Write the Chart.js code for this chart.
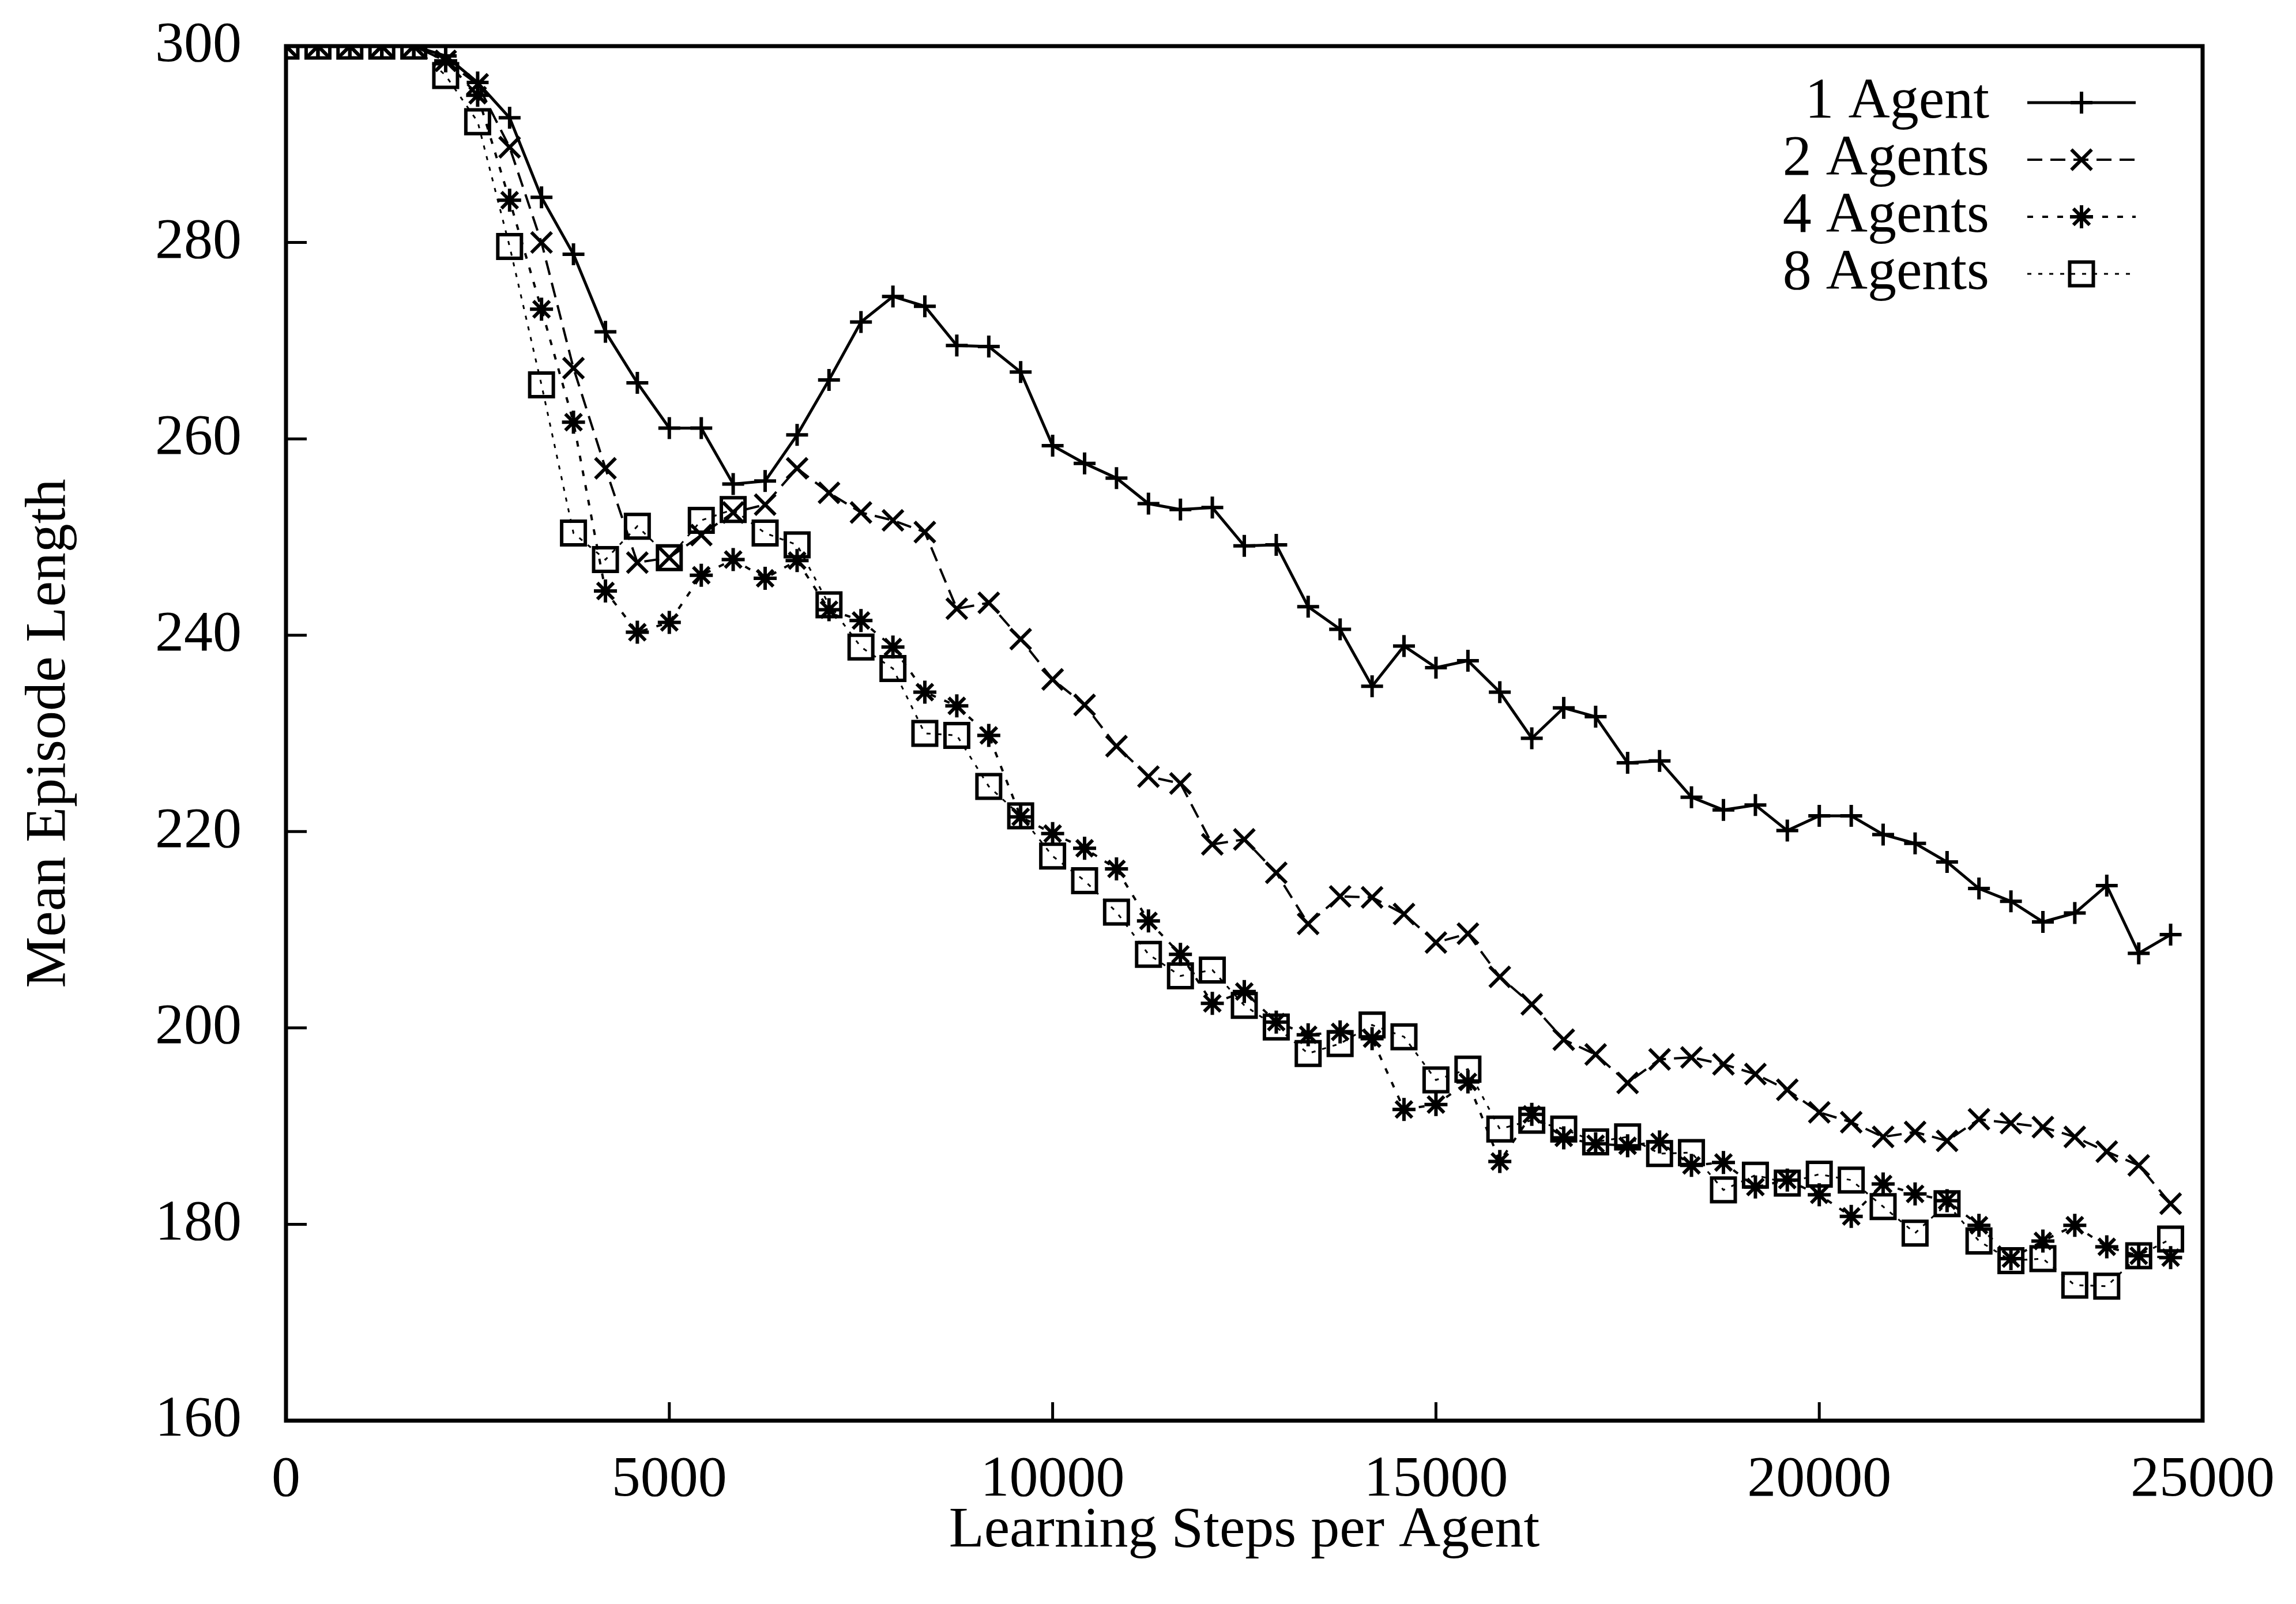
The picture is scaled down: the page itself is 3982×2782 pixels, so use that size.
<!DOCTYPE html>
<html>
<head>
<meta charset="utf-8">
<title>Mean Episode Length</title>
<script src="https://cdn.jsdelivr.net/npm/chart.js"></script>
<style>
  html, body { margin: 0; padding: 0; background: #fff; }
  #wrap { width: 3982px; height: 2782px; position: relative; }
</style>
</head>
<body>
<div id="wrap"><canvas id="myChart"></canvas></div>
<script>
"use strict";

// learning steps per agent (x positions of the samples)
const steps = [0, 417, 833, 1250, 1667, 2083, 2500, 2917, 3333, 3750,
  4167, 4583, 5000, 5417, 5833, 6250, 6667, 7083, 7500, 7917,
  8333, 8750, 9167, 9583, 10000, 10417, 10833, 11250, 11667, 12083,
  12500, 12917, 13333, 13750, 14167, 14583, 15000, 15417, 15833, 16250,
  16667, 17083, 17500, 17917, 18333, 18750, 19167, 19583, 20000, 20417,
  20833, 21250, 21667, 22083, 22500, 22917, 23333, 23750, 24167, 24583];

const agent1 = [300, 300, 300, 300, 300, 299, 296.3, 292.7, 284.6, 278.8,
  270.9, 265.7, 261.1, 261.1, 255.4, 255.7, 260.4, 266, 271.9, 274.5,
  273.5, 269.5, 269.4, 266.8, 259.3, 257.5, 256.0, 253.4, 252.8, 253.0,
  249.1, 249.2, 242.9, 240.6, 234.8, 238.9, 236.7, 237.4, 234.2, 229.5,
  232.6, 231.7, 227.0, 227.2, 223.5, 222.2, 222.7, 220.1, 221.6, 221.6,
  219.7, 218.8, 216.9, 214.2, 212.9, 210.8, 211.7, 214.5, 207.6, 209.5];

const agents2 = [300, 300, 300, 300, 300, 298.5, 296.1, 289.7, 280.0, 267.2,
  257.0, 247.4, 247.9, 250.2, 252.5, 253.3, 257.0, 254.5, 252.5, 251.7,
  250.5, 242.7, 243.3, 239.6, 235.5, 232.9, 228.7, 225.6, 224.9, 218.7,
  219.2, 215.8, 210.6, 213.4, 213.3, 211.6, 208.7, 209.6, 205.2, 202.4,
  198.8, 197.3, 194.4, 196.8, 197.0, 196.3, 195.3, 193.7, 191.4, 190.4,
  188.9, 189.4, 188.5, 190.7, 190.3, 189.9, 188.9, 187.4, 186.0, 182.1];

const agents4 = [300, 300, 300, 300, 300, 298.5, 295, 284.3, 273.2, 261.7,
  244.5, 240.3, 241.3, 246.1, 247.7, 245.8, 247.6, 242.6, 241.5, 238.8,
  234.2, 232.8, 229.8, 221.5, 219.8, 218.3, 216.2, 210.9, 207.5, 202.5,
  203.7, 200.6, 199.3, 199.6, 198.9, 191.7, 192.2, 194.5, 186.4, 191.2,
  188.8, 188.2, 188.0, 188.4, 186.0, 186.3, 183.8, 184.5, 183.0, 180.8,
  184.1, 183.1, 182.4, 179.9, 176.5, 178.3, 179.9, 177.7, 176.8, 176.6];

const agents8 = [300, 300, 300, 300, 300, 297.0, 292.3, 279.6, 265.5, 250.4,
  247.7, 251.1, 247.9, 251.7, 252.8, 250.4, 249.2, 243.1, 238.8, 236.6,
  230.0, 229.8, 224.6, 221.6, 217.5, 215.0, 211.8, 207.5, 205.3, 205.9,
  202.3, 200.1, 197.4, 198.4, 200.3, 199.1, 194.7, 195.8, 189.7, 190.6,
  189.7, 188.4, 188.9, 187.2, 187.3, 183.5, 185.0, 184.2, 185.1, 184.5,
  181.8, 179.1, 182.1, 178.3, 176.3, 176.5, 173.8, 173.7, 176.8, 178.5];

const seriesLabels = ["1 Agent", "2 Agents", "4 Agents", "8 Agents"];
const xTicks = [0, 5000, 10000, 15000, 20000, 25000];
const yTicks = [160, 180, 200, 220, 240, 260, 280, 300];

const serif = "'Liberation Serif', 'Times New Roman', serif";

function toPoints(values) {
  return values.map((v, i) => ({ x: steps[i], y: v }));
}

function makeSet(label, values, dash, style, radius, lineWidth) {
  return {
    label: label,
    data: toPoints(values),
    borderColor: "#000",
    backgroundColor: "rgba(0,0,0,0)",
    borderWidth: lineWidth,
    borderDash: dash,
    pointStyle: style,
    pointRadius: radius,
    pointHoverRadius: radius,
    pointBorderWidth: 6,
    pointBorderColor: "#000",
    pointBackgroundColor: "rgba(0,0,0,0)",
    tension: 0,
    fill: false,
  };
}

// white page behind everything
const whiteBg = {
  id: "whiteBg",
  beforeDraw(chart) {
    const ctx = chart.ctx;
    ctx.save();
    ctx.fillStyle = "#fff";
    ctx.fillRect(0, 0, chart.width, chart.height);
    ctx.restore();
  },
};

// gnuplot style frame, inward ticks and the key in the top right corner
const frameAndKey = {
  id: "frameAndKey",
  afterDraw(chart) {
    const ctx = chart.ctx;
    const area = chart.chartArea;
    const xs = chart.scales.x;
    const ys = chart.scales.y;
    ctx.save();
    ctx.strokeStyle = "#000";
    ctx.setLineDash([]);

    ctx.lineWidth = 5;
    yTicks.forEach((t) => {
      const py = ys.getPixelForValue(t);
      ctx.beginPath();
      ctx.moveTo(area.left, py);
      ctx.lineTo(area.left + 36, py);
      ctx.stroke();
    });
    xTicks.forEach((t) => {
      const px = xs.getPixelForValue(t);
      ctx.beginPath();
      ctx.moveTo(px, area.bottom);
      ctx.lineTo(px, area.bottom - 32);
      ctx.stroke();
    });

    ctx.lineWidth = 7;
    ctx.strokeRect(area.left, area.top, area.right - area.left, area.bottom - area.top);

    // key
    ctx.font = "100px " + serif;
    ctx.textAlign = "right";
    ctx.textBaseline = "middle";
    chart.data.datasets.forEach((ds, i) => {
      const y = area.top + 98 + i * 99;
      ctx.fillStyle = "#000";
      ctx.fillText(ds.label, area.right - 370, y);
      ctx.lineWidth = ds.borderWidth;
      ctx.setLineDash(ds.borderDash);
      ctx.beginPath();
      ctx.moveTo(area.right - 304, y);
      ctx.lineTo(area.right - 116, y);
      ctx.stroke();
      ctx.setLineDash([]);
      ctx.lineWidth = ds.pointBorderWidth;
      ctx.fillStyle = "rgba(0,0,0,0)";
      if (Chart.helpers && Chart.helpers.drawPoint) {
        Chart.helpers.drawPoint(ctx, {
          pointStyle: ds.pointStyle,
          radius: ds.pointRadius,
          rotation: 0,
          borderWidth: ds.pointBorderWidth,
        }, area.right - 210, y);
      }
    });
    ctx.restore();
  },
};

const config = {
  type: "line",
  data: {
    datasets: [
      makeSet(seriesLabels[0], agent1, [], "cross", 19, 5),
      makeSet(seriesLabels[1], agents2, [26, 14], "crossRot", 25, 4),
      makeSet(seriesLabels[2], agents4, [10, 16], "star", 20, 4),
      makeSet(seriesLabels[3], agents8, [7, 12], "rect", 29, 3),
    ],
  },
  options: {
    responsive: true,
    maintainAspectRatio: false,
    animation: false,
    devicePixelRatio: 1,
    layout: { autoPadding: false, padding: { left: 0, top: 80, right: 162, bottom: 0 } },
    plugins: {
      legend: { display: false },
      tooltip: { enabled: false },
    },
    scales: {
      x: {
        type: "linear",
        min: 0,
        max: 25000,
        afterFit(scale) {
          scale.height = 318;
          scale.paddingLeft = 0;
          scale.paddingRight = 0;
        },
        afterBuildTicks(scale) { scale.ticks = xTicks.map((v) => ({ value: v })); },
        grid: { display: false, drawTicks: false },
        border: { display: false },
        ticks: {
          color: "#000",
          padding: 44,
          maxRotation: 0,
          font: { family: serif, size: 100 },
          callback: (v) => String(v),
        },
        title: {
          display: true,
          text: "Learning Steps per Agent",
          color: "#000",
          font: { family: serif, size: 100 },
          padding: { top: 0, bottom: 66 },
        },
      },
      y: {
        type: "linear",
        min: 160,
        max: 300,
        afterFit(scale) {
          scale.width = 496;
          scale.paddingTop = 0;
          scale.paddingBottom = 0;
        },
        afterBuildTicks(scale) { scale.ticks = yTicks.map((v) => ({ value: v })); },
        grid: { display: false, drawTicks: false },
        border: { display: false },
        ticks: {
          color: "#000",
          padding: 77,
          font: { family: serif, size: 100 },
          callback: (v) => String(v),
        },
        title: {
          display: true,
          text: "Mean Episode Length",
          color: "#000",
          font: { family: serif, size: 100 },
          padding: { top: 26, bottom: 0 },
        },
      },
    },
  },
  plugins: [whiteBg, frameAndKey],
};

new Chart(document.getElementById("myChart"), config);
</script>
</body>
</html>
